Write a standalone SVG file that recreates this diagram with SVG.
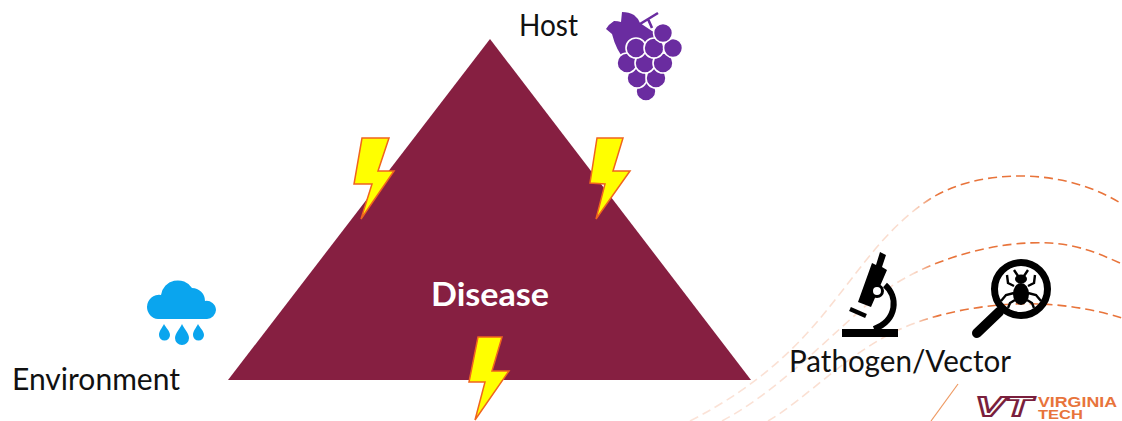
<svg xmlns="http://www.w3.org/2000/svg" width="1122" height="421" viewBox="0 0 1122 421">
<defs>
<linearGradient id="fade" gradientUnits="userSpaceOnUse" x1="690" y1="0" x2="1000" y2="0">
<stop offset="0" stop-color="#fbe3d8"/>
<stop offset="0.72" stop-color="#fadccd"/>
<stop offset="0.8" stop-color="#e8743b"/>
<stop offset="1" stop-color="#e8743b"/>
</linearGradient>
</defs>
<style>
.t{font-family:Lato,"Open Sans",sans-serif;font-size:30px;fill:#111}
.bolt{fill:#ffff00;stroke:#f0641e;stroke-width:1.5;stroke-linejoin:miter}
.curve{fill:none;stroke:url(#fade);stroke-width:1.6;stroke-dasharray:9 5}
.grape{fill:#6a2ca0;stroke:#fff;stroke-width:1.6}
.ink{fill:#000}
.drop{fill:#0aa5ee}
.logo{font-family:"Liberation Sans",sans-serif;font-weight:700;fill:#e8743b}
</style>
<rect width="1122" height="421" fill="#fff"/>
<g id="connectors">
<path class="curve" d="M690,421C760,385 800,345 835,300C865,262 890,225 930,199C975,170 1060,165 1122,204"/>
<path class="curve" d="M722,421C780,390 830,335 875,298C925,258 1000,240 1050,243C1080,245 1100,254 1122,264"/>
<path class="curve" d="M768,421C805,400 850,350 905,327C945,310 1000,302 1040,304C1070,305 1100,311 1122,318"/>
<path fill="none" stroke="#ee9a63" stroke-width="1.2" d="M958,384L931,421"/>
</g>
<g id="disease">
<polygon points="490,39 751,380 228,380" fill="#861f41"/>
<text x="431" y="306" textLength="118" lengthAdjust="spacingAndGlyphs" style="font-family:Lato,'Open Sans',sans-serif;font-size:33px;font-weight:700;fill:#fff">Disease</text>
</g>
<g id="bolt-left"><polygon class="bolt" points="362,138 389,138 378,171 394,171 361,219 372,184 354,184"/></g>
<g id="bolt-right"><polygon class="bolt" points="597,138 623,138 613,171 630,171 596,219 605,184 590,183"/></g>
<g id="bolt-bottom"><polygon class="bolt" points="478,337 502,337 492,371 509,371 475,420 485,382 469,382"/></g>
<g id="host">
<text class="t" x="519" y="36" textLength="59" lengthAdjust="spacingAndGlyphs">Host</text>
<path fill="#6a2ca0" d="M606,29Q609,24 614,21Q618,21 621,22L622,12Q629,12 634,15Q638,18 640,23L655,33L653,44L632,46L625,60Q616,50 612,34Z"/>
<path fill="none" stroke="#6a2ca0" stroke-width="2.6" d="M658,13L640,24M648,19L652,28"/>
<circle class="grape" cx="646" cy="91" r="10"/>
<circle class="grape" cx="637" cy="78" r="10"/>
<circle class="grape" cx="656" cy="78" r="10"/>
<circle class="grape" cx="627" cy="63" r="10"/>
<circle class="grape" cx="645" cy="63" r="10"/>
<circle class="grape" cx="663" cy="63" r="10"/>
<circle class="grape" cx="636" cy="48" r="10"/>
<circle class="grape" cx="654" cy="48" r="10"/>
<circle class="grape" cx="673" cy="48" r="9.5"/>
<circle class="grape" cx="663" cy="33" r="9.5"/>
</g>
<g id="environment">
<text class="t" x="12" y="390" textLength="168" lengthAdjust="spacingAndGlyphs">Environment</text>
<path class="drop" d="M158,319A12,12 0 0 1 147,307A12,12 0 0 1 161,295A17,17 0 0 1 192,288A13,13 0 0 1 205,301A9.5,9.5 0 0 1 216,310A9.5,9.5 0 0 1 207,319Z"/>
<path class="drop" d="M164,324C166,328 170,331 170,335A5.5,5.5 0 0 1 159,335C159,331 162,328 164,324Z"/>
<path class="drop" d="M182,324C184,329 189,333 189,338A7,7 0 0 1 175,338C175,333 180,329 182,324Z"/>
<path class="drop" d="M198,324C200,328 204,331 204,335A5.5,5.5 0 0 1 193,335C193,331 196,328 198,324Z"/>
</g>
<g id="pathogen-vector">
<text class="t" x="789" y="372" textLength="222" lengthAdjust="spacingAndGlyphs">Pathogen/Vector</text>
<rect class="ink" x="842" y="329" width="56" height="8"/>
<polygon class="ink" points="880,252 886,255 882,267 887,270 871,307 858,302 872,263 876,265"/>
<path fill="none" stroke="#000" stroke-width="6" d="M885,285C898,296 898,320 874,329"/>
<line x1="850" y1="309" x2="866" y2="316" stroke="#000" stroke-width="4.5"/>
<circle cx="877" cy="291" r="5.5" fill="#fff" stroke="#000" stroke-width="3"/>
<circle cx="1021" cy="289" r="26.5" fill="none" stroke="#000" stroke-width="7"/>
<line x1="999" y1="312" x2="977" y2="333" stroke="#000" stroke-width="10" stroke-linecap="round"/>
<ellipse class="ink" cx="1021" cy="294" rx="8" ry="11"/>
<ellipse class="ink" cx="1021" cy="279" rx="6" ry="4.5"/>
<path fill="none" stroke="#000" stroke-width="2.4" d="M1018,276L1014,270M1024,276L1028,270M1014,286L1008,283L1007,275M1028,286L1034,283L1035,275M1014,293L1006,295L1001,301M1028,293L1036,295L1041,301M1015,300L1010,303L1008,308M1027,300L1032,303L1034,308"/>
</g>
<g id="logo">
<text x="975" y="416" textLength="57" lengthAdjust="spacingAndGlyphs" style="font-family:'Liberation Sans',sans-serif;font-size:28px;font-weight:700;font-style:italic;fill:#fff;stroke:#7a1f3d;stroke-width:1.8">VT</text>
<text class="logo" x="1038" y="407" textLength="79" lengthAdjust="spacingAndGlyphs" font-size="15">VIRGINIA</text>
<text class="logo" x="1038" y="419" textLength="45" lengthAdjust="spacingAndGlyphs" font-size="12">TECH</text>
</g>
</svg>
